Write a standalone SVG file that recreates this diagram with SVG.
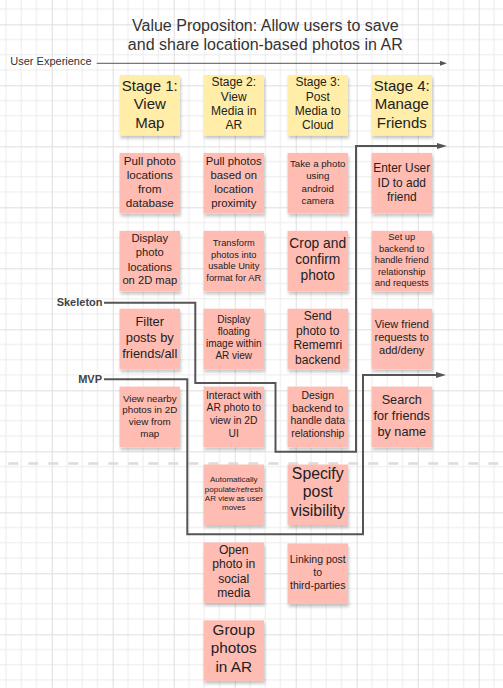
<svg xmlns="http://www.w3.org/2000/svg" width="503" height="688" viewBox="0 0 503 688">
<defs>
<pattern id="grid" patternUnits="userSpaceOnUse" x="51.7" y="24.3" width="61" height="61">
<rect width="61" height="61" fill="#ffffff"/>
<path d="M15.25,0V61M30.5,0V61M45.75,0V61M0,15.25H61M0,30.5H61M0,45.75H61" stroke="#ececec" stroke-width="1" fill="none"/>
<path d="M0.5,0V61M0,0.5H61" stroke="#dedede" stroke-width="1" fill="none"/>
</pattern>
<filter id="sh" x="-10%" y="-10%" width="125%" height="130%">
<feDropShadow dx="1" dy="3" stdDeviation="1.5" flood-color="#000" flood-opacity="0.22"/>
</filter>
<marker id="ah" markerUnits="userSpaceOnUse" markerWidth="10" markerHeight="6" refX="0" refY="3" orient="auto">
<path d="M0,0L10,3L0,6z" fill="#555"/>
</marker>
<marker id="ahs" markerUnits="userSpaceOnUse" markerWidth="7" markerHeight="5" refX="0" refY="2.5" orient="auto">
<path d="M0,0L7,2.5L0,5z" fill="#555"/>
</marker>
<style>
text{font-family:"Liberation Sans",Arial,sans-serif;fill:#222;text-anchor:middle}
.title{font-size:16px;fill:#333}
.ux{font-size:11px;fill:#333;text-anchor:start}
.lab{font-size:11px;font-weight:bold;fill:#444;text-anchor:end}
.stage{fill:#ffeda8;filter:url(#sh)}
.note{fill:#ffbcb3;filter:url(#sh)}
.conn{fill:none;stroke:#555;stroke-width:2}
</style>
</defs>
<rect width="503" height="688" fill="url(#grid)"/>

<g id="title">
<text class="title" x="265.3" y="30.7">Value Propositon: Allow users to save</text>
<text class="title" x="265.3" y="50.3">and share location-based photos in AR</text>
</g>

<g id="user-experience">
<text class="ux" x="10.3" y="65">User Experience</text>
<path d="M96.7,63.3H440" stroke="#555" stroke-width="1" fill="none" marker-end="url(#ahs)"/>
</g>

<line id="mvp-divider" x1="8.3" y1="463.5" x2="503" y2="463.5" stroke="#dcdcdc" stroke-width="2.7" stroke-dasharray="10 10"/>

<g id="connectors">
<path id="skeleton-line" class="conn" d="M104,302.7H195.3V383H275.5V451.7H356V146H437" marker-end="url(#ah)"/>
<path id="mvp-line" class="conn" d="M104,379.3H187.3V534.3H363V375H436" marker-end="url(#ah)"/>
</g>
<g id="skeleton-label"><text class="lab" x="102.5" y="306">Skeleton</text></g>
<g id="mvp-label"><text class="lab" x="102" y="383">MVP</text></g>

<!-- Stage headers -->
<g id="stage1"><rect class="stage" x="119.5" y="75" width="60.5" height="60.5"/>
<text font-size="15"><tspan x="149.75" y="91">Stage 1:</tspan><tspan x="149.75" y="109.3">View</tspan><tspan x="149.75" y="127.6">Map</tspan></text></g>
<g id="stage2"><rect class="stage" x="203.5" y="75" width="60.5" height="60.5"/>
<text font-size="12"><tspan x="233.75" y="86">Stage 2:</tspan><tspan x="233.75" y="100.5">View</tspan><tspan x="233.75" y="115">Media in</tspan><tspan x="233.75" y="129.3">AR</tspan></text></g>
<g id="stage3"><rect class="stage" x="287.5" y="75" width="60.5" height="60.5"/>
<text font-size="12"><tspan x="317.75" y="86">Stage 3:</tspan><tspan x="317.75" y="100.5">Post</tspan><tspan x="317.75" y="115">Media to</tspan><tspan x="317.75" y="129.3">Cloud</tspan></text></g>
<g id="stage4"><rect class="stage" x="371.5" y="75" width="60.5" height="60.5"/>
<text font-size="15"><tspan x="401.75" y="91">Stage 4:</tspan><tspan x="401.75" y="109.3">Manage</tspan><tspan x="401.75" y="127.6">Friends</tspan></text></g>

<!-- Row 1 -->
<g id="n-pull-locations"><rect class="note" x="119.5" y="152.9" width="60.5" height="60.5"/>
<text font-size="11.7"><tspan x="149.75" y="165">Pull photo</tspan><tspan x="149.75" y="179">locations</tspan><tspan x="149.75" y="193.2">from</tspan><tspan x="149.75" y="207">database</tspan></text></g>
<g id="n-pull-proximity"><rect class="note" x="203.5" y="152.9" width="60.5" height="60.5"/>
<text font-size="11.3"><tspan x="233.75" y="165">Pull photos</tspan><tspan x="233.75" y="179">based on</tspan><tspan x="233.75" y="193">location</tspan><tspan x="233.75" y="206.5">proximity</tspan></text></g>
<g id="n-take-photo"><rect class="note" x="287.5" y="152.9" width="60.5" height="60.5"/>
<text font-size="9.7"><tspan x="317.75" y="167.3">Take a photo</tspan><tspan x="317.75" y="179.3">using</tspan><tspan x="317.75" y="191.5">android</tspan><tspan x="317.75" y="203.5">camera</tspan></text></g>
<g id="n-enter-id"><rect class="note" x="371.5" y="152.9" width="60.5" height="60.5"/>
<text font-size="11.9"><tspan x="401.75" y="171.7">Enter User</tspan><tspan x="401.75" y="186.5">ID to add</tspan><tspan x="401.75" y="201">friend</tspan></text></g>

<!-- Row 2 -->
<g id="n-display-locations"><rect class="note" x="119.5" y="230.8" width="60.5" height="60.5"/>
<text font-size="11.2"><tspan x="149.75" y="242">Display</tspan><tspan x="149.75" y="256.3">photo</tspan><tspan x="149.75" y="270.5">locations</tspan><tspan x="149.75" y="284">on 2D map</tspan></text></g>
<g id="n-transform"><rect class="note" x="203.5" y="230.8" width="60.5" height="60.5"/>
<text font-size="9.3"><tspan x="233.75" y="246">Transform</tspan><tspan x="233.75" y="257.5">photos into</tspan><tspan x="233.75" y="269">usable Unity</tspan><tspan x="233.75" y="280.5">format for AR</tspan></text></g>
<g id="n-crop"><rect class="note" x="287.5" y="230.8" width="60.5" height="60.5"/>
<text font-size="13.8"><tspan x="317.75" y="248.3">Crop and</tspan><tspan x="317.75" y="264.2">confirm</tspan><tspan x="317.75" y="280.2">photo</tspan></text></g>
<g id="n-backend-friend"><rect class="note" x="371.5" y="230.8" width="60.5" height="60.5"/>
<text font-size="9.3"><tspan x="401.75" y="240">Set up</tspan><tspan x="401.75" y="251.5">backend to</tspan><tspan x="401.75" y="263">handle friend</tspan><tspan x="401.75" y="274.5">relationship</tspan><tspan x="401.75" y="286">and requests</tspan></text></g>

<!-- Row 3 -->
<g id="n-filter"><rect class="note" x="119.5" y="308.7" width="60.5" height="60.5"/>
<text font-size="12.9"><tspan x="149.75" y="326">Filter</tspan><tspan x="149.75" y="342">posts by</tspan><tspan x="149.75" y="357.7">friends/all</tspan></text></g>
<g id="n-display-floating"><rect class="note" x="203.5" y="308.7" width="60.5" height="60.5"/>
<text font-size="10"><tspan x="233.75" y="323.3">Display</tspan><tspan x="233.75" y="335">floating</tspan><tspan x="233.75" y="346.8">image within</tspan><tspan x="233.75" y="358.6">AR view</tspan></text></g>
<g id="n-send-photo"><rect class="note" x="287.5" y="308.7" width="60.5" height="60.5"/>
<text font-size="12"><tspan x="317.75" y="320">Send</tspan><tspan x="317.75" y="334.5">photo to</tspan><tspan x="317.75" y="349">Rememri</tspan><tspan x="317.75" y="363.5">backend</tspan></text></g>
<g id="n-view-requests"><rect class="note" x="371.5" y="308.7" width="60.5" height="60.5"/>
<text font-size="11"><tspan x="401.75" y="327.5">View friend</tspan><tspan x="401.75" y="341">requests to</tspan><tspan x="401.75" y="354.3">add/deny</tspan></text></g>

<!-- Row 4 -->
<g id="n-view-nearby"><rect class="note" x="119.5" y="386.6" width="60.5" height="60.5"/>
<text font-size="9.8"><tspan x="149.75" y="401.7">View nearby</tspan><tspan x="149.75" y="413.4">photos in 2D</tspan><tspan x="149.75" y="425.1">view from</tspan><tspan x="149.75" y="436.8">map</tspan></text></g>
<g id="n-interact"><rect class="note" x="203.5" y="386.6" width="60.5" height="60.5"/>
<text font-size="10.3"><tspan x="233.75" y="398.5">Interact with</tspan><tspan x="233.75" y="411.3">AR photo to</tspan><tspan x="233.75" y="424.1">view in 2D</tspan><tspan x="233.75" y="436.9">UI</tspan></text></g>
<g id="n-design-backend"><rect class="note" x="287.5" y="386.6" width="60.5" height="60.5"/>
<text font-size="10.4"><tspan x="317.75" y="399">Design</tspan><tspan x="317.75" y="411.5">backend to</tspan><tspan x="317.75" y="424">handle data</tspan><tspan x="317.75" y="436.5">relationship</tspan></text></g>
<g id="n-search"><rect class="note" x="371.5" y="386.6" width="60.5" height="60.5"/>
<text font-size="12.7"><tspan x="401.75" y="403.5">Search</tspan><tspan x="401.75" y="419.7">for friends</tspan><tspan x="401.75" y="435.8">by name</tspan></text></g>

<!-- Row 5 -->
<g id="n-auto-refresh"><rect class="note" x="203.5" y="464.5" width="60.5" height="60.5"/>
<text font-size="8"><tspan x="233.75" y="482.3">Automatically</tspan><tspan x="233.75" y="491.5">populate/refresh</tspan><tspan x="233.75" y="500.7">AR view as user</tspan><tspan x="233.75" y="509.9">moves</tspan></text></g>
<g id="n-visibility"><rect class="note" x="287.5" y="464.5" width="60.5" height="60.5"/>
<text font-size="15.8"><tspan x="317.75" y="478.5">Specify</tspan><tspan x="317.75" y="497.3">post</tspan><tspan x="317.75" y="516">visibility</tspan></text></g>

<!-- Row 6 -->
<g id="n-social"><rect class="note" x="203.5" y="542.4" width="60.5" height="60.5"/>
<text font-size="12.1"><tspan x="233.75" y="553.5">Open</tspan><tspan x="233.75" y="568">photo in</tspan><tspan x="233.75" y="582.5">social</tspan><tspan x="233.75" y="596.5">media</tspan></text></g>
<g id="n-linking"><rect class="note" x="287.5" y="543.4" width="60.5" height="60.5"/>
<text font-size="10.5"><tspan x="317.75" y="563.3">Linking post</tspan><tspan x="317.75" y="576.2">to</tspan><tspan x="317.75" y="589.1">third-parties</tspan></text></g>

<!-- Row 7 -->
<g id="n-group"><rect class="note" x="203.5" y="620.3" width="60.5" height="60.5"/>
<text font-size="15.3"><tspan x="233.75" y="634.5">Group</tspan><tspan x="233.75" y="653.2">photos</tspan><tspan x="233.75" y="671.8">in AR</tspan></text></g>
</svg>
